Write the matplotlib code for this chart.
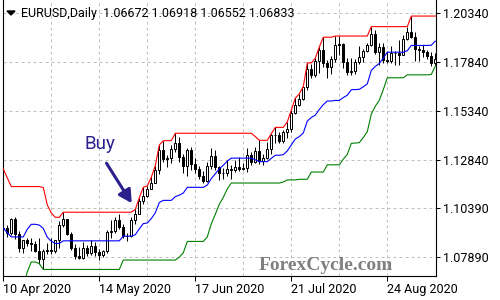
import numpy as np
import pandas as pd
import matplotlib
matplotlib.use("Agg")
import matplotlib.pyplot as plt
from matplotlib.patches import Polygon

# ---------- DATA ----------
# 19 daily bars before 10 Apr (16 Mar - 9 Apr), only used to seed the 20-bar channel
hist_high = [1.1240, 1.1194, 1.1030, 1.0910, 1.0760, 1.0785, 1.0850, 1.0890, 1.1035, 1.1150,
             1.1145, 1.1056, 1.1015, 1.0970, 1.0865, 1.0845, 1.0925, 1.0890, 1.0950]
hist_low = [1.1050, 1.0960, 1.0870, 1.0655, 1.0640, 1.0636, 1.0715, 1.0770, 1.0765, 1.0950,
            1.1000, 1.0955, 1.0905, 1.0865, 1.0778, 1.0770, 1.0830, 1.0835, 1.0848]

# EURUSD daily, 10 Apr 2020 - 9 Sep 2020
opens = [1.0934, 1.0937, 1.0913, 1.0986, 1.0908, 1.0839, 1.0875, 1.0862, 1.0856, 1.0823,
         1.0780, 1.0820, 1.0827, 1.0822, 1.0875, 1.0954, 1.0982, 1.0908, 1.0838, 1.0795,
         1.0784, 1.0838, 1.0810, 1.0848, 1.0816, 1.0803, 1.0820, 1.0918, 1.0923, 1.0977,
         1.0945, 1.0900, 1.0898, 1.0980, 1.1012, 1.1076, 1.1101, 1.1140, 1.1170, 1.1236,
         1.1339, 1.1290, 1.1295, 1.1341, 1.1373, 1.1300, 1.1257, 1.1336, 1.1264, 1.1240,
         1.1204, 1.1178, 1.1256, 1.1308, 1.1250, 1.1219, 1.1220, 1.1242, 1.1234, 1.1250,
         1.1239, 1.1246, 1.1309, 1.1275, 1.1330, 1.1282, 1.1298, 1.1343, 1.1412, 1.1411,
         1.1383, 1.1428, 1.1444, 1.1526, 1.1567, 1.1596, 1.1656, 1.1752, 1.1719, 1.1792,
         1.1846, 1.1778, 1.1762, 1.1799, 1.1873, 1.1876, 1.1785, 1.1735, 1.1738, 1.1785,
         1.1813, 1.1842, 1.1871, 1.1930, 1.1835, 1.1860, 1.1795, 1.1792, 1.1833, 1.1831,
         1.1822, 1.1904, 1.1937, 1.1915, 1.1852, 1.1848, 1.1838, 1.1817, 1.1779]
highs = [1.0952, 1.0955, 1.0990, 1.0993, 1.0925, 1.0879, 1.0890, 1.0888, 1.0874, 1.0887,
         1.0830, 1.0861, 1.0889, 1.0876, 1.0973, 1.1019, 1.0985, 1.0920, 1.0859, 1.0844,
         1.0868, 1.0852, 1.0875, 1.0865, 1.0831, 1.0828, 1.0926, 1.0977, 1.0996, 1.1008,
         1.0960, 1.0913, 1.0996, 1.1033, 1.1093, 1.1147, 1.1153, 1.1198, 1.1257, 1.1362,
         1.1384, 1.1311, 1.1361, 1.1422, 1.1405, 1.1315, 1.1346, 1.1350, 1.1294, 1.1257,
         1.1227, 1.1275, 1.1349, 1.1338, 1.1256, 1.1246, 1.1288, 1.1262, 1.1283, 1.1303,
         1.1268, 1.1345, 1.1327, 1.1352, 1.1386, 1.1315, 1.1375, 1.1420, 1.1452, 1.1430,
         1.1439, 1.1480, 1.1540, 1.1601, 1.1623, 1.1660, 1.1781, 1.1776, 1.1805, 1.1862,
         1.1912, 1.1796, 1.1815, 1.1918, 1.1916, 1.1880, 1.1806, 1.1805, 1.1800, 1.1865,
         1.1850, 1.1885, 1.1966, 1.1951, 1.1883, 1.1883, 1.1841, 1.1869, 1.1840, 1.1900,
         1.1925, 1.1966, 1.2020, 1.1937, 1.1867, 1.1872, 1.1847, 1.1838, 1.1832]
lows = [1.0915, 1.0895, 1.0901, 1.0880, 1.0815, 1.0812, 1.0845, 1.0820, 1.0817, 1.0757,
        1.0727, 1.0806, 1.0808, 1.0813, 1.0836, 1.0944, 1.0901, 1.0827, 1.0782, 1.0778,
        1.0780, 1.0795, 1.0800, 1.0798, 1.0775, 1.0790, 1.0812, 1.0885, 1.0912, 1.0935,
        1.0887, 1.0870, 1.0893, 1.0960, 1.1008, 1.1060, 1.1095, 1.1138, 1.1169, 1.1214,
        1.1273, 1.1248, 1.1270, 1.1326, 1.1275, 1.1221, 1.1206, 1.1236, 1.1220, 1.1187,
        1.1168, 1.1173, 1.1240, 1.1236, 1.1184, 1.1190, 1.1203, 1.1187, 1.1225, 1.1230,
        1.1232, 1.1224, 1.1262, 1.1268, 1.1263, 1.1261, 1.1290, 1.1314, 1.1370, 1.1372,
        1.1374, 1.1400, 1.1430, 1.1520, 1.1560, 1.1590, 1.1645, 1.1705, 1.1708, 1.1727,
        1.1762, 1.1705, 1.1724, 1.1785, 1.1822, 1.1756, 1.1721, 1.1720, 1.1722, 1.1773,
        1.1783, 1.1835, 1.1869, 1.1828, 1.1770, 1.1780, 1.1780, 1.1781, 1.1771, 1.1768,
        1.1820, 1.1900, 1.1910, 1.1789, 1.1789, 1.1809, 1.1802, 1.1765, 1.1770]
closes = [1.0937, 1.0913, 1.0986, 1.0908, 1.0839, 1.0875, 1.0862, 1.0856, 1.0823, 1.0780,
          1.0820, 1.0827, 1.0822, 1.0875, 1.0954, 1.0982, 1.0908, 1.0838, 1.0795, 1.0784,
          1.0838, 1.0810, 1.0848, 1.0816, 1.0803, 1.0820, 1.0918, 1.0923, 1.0977, 1.0945,
          1.0900, 1.0898, 1.0980, 1.1012, 1.1076, 1.1101, 1.1140, 1.1170, 1.1236, 1.1339,
          1.1290, 1.1295, 1.1341, 1.1373, 1.1300, 1.1257, 1.1336, 1.1264, 1.1240, 1.1204,
          1.1178, 1.1256, 1.1308, 1.1250, 1.1219, 1.1220, 1.1242, 1.1234, 1.1250, 1.1239,
          1.1246, 1.1309, 1.1275, 1.1330, 1.1282, 1.1298, 1.1343, 1.1412, 1.1411, 1.1383,
          1.1428, 1.1444, 1.1526, 1.1567, 1.1596, 1.1656, 1.1752, 1.1719, 1.1792, 1.1846,
          1.1778, 1.1762, 1.1799, 1.1873, 1.1876, 1.1785, 1.1735, 1.1738, 1.1785, 1.1813,
          1.1842, 1.1871, 1.1930, 1.1835, 1.1860, 1.1795, 1.1792, 1.1833, 1.1831, 1.1822,
          1.1904, 1.1937, 1.1915, 1.1852, 1.1848, 1.1838, 1.1817, 1.1779, 1.1802]

tick_bars = [0, 24, 48, 72, 96]
tick_dates = ["10 Apr 2020", "14 May 2020", "17 Jun 2020", "21 Jul 2020", "24 Aug 2020"]
price_ticks = [1.20340, 1.17840, 1.15340, 1.12840, 1.10390, 1.07890]

title = "EURUSD,Daily  1.06672 1.06918 1.06552 1.06833"
PERIOD = 20
BUY_BAR = 32

# ---------- STYLE ----------
plt.rcParams['font.family'] = ['Roboto', 'DejaVu Sans']
PX = 0.72  # one pixel in points at dpi 100
BUY_COLOR = "#2b1f8c"
GRID_COLOR = "#c0c0c0"


def channel():
    """20-bar price channel (highest high / lowest low) and its middle"""
    hi = pd.Series(hist_high + highs).rolling(PERIOD).max().iloc[len(hist_high):]
    lo = pd.Series(hist_low + lows).rolling(PERIOD).min().iloc[len(hist_low):]
    return hi.to_numpy(), lo.to_numpy(), ((hi + lo) / 2).to_numpy()


def draw_candles(ax):
    o, h, l, c = map(np.array, (opens, highs, lows, closes))
    x = np.arange(len(o))
    ax.vlines(x, l, h, color="black", lw=PX, zorder=2)
    up = c >= o
    bottom = np.minimum(o, c)
    height = np.abs(c - o)
    ax.bar(x[up], height[up], bottom=bottom[up], width=0.55, facecolor="white",
           edgecolor="black", linewidth=PX, zorder=2.5)
    ax.bar(x[~up], height[~up], bottom=bottom[~up], width=0.55, facecolor="black",
           edgecolor="black", linewidth=PX, zorder=2.5)


fig = plt.figure(figsize=(5, 3), dpi=100)
ax = fig.add_axes([2.7 / 500, 24 / 300, 433 / 500, 276 / 300])

upper, lower, middle = channel()
bars = np.arange(len(closes))

draw_candles(ax)
ax.plot(bars, upper, color="#ff0000", lw=0.8, zorder=3)
ax.plot(bars, middle, color="#0000ff", lw=0.8, zorder=3)
ax.plot(bars, lower, color="#008000", lw=0.8, zorder=3)

ax.set_xlim(-0.15, 108.1)
ax.set_ylim(1.06936, 1.21019)

# axes frame
ax.spines["top"].set_visible(False)
for side in ("left", "bottom", "right"):
    ax.spines[side].set_linewidth(0.8)
    ax.spines[side].set_color("black")

# price scale on the right
ax.yaxis.tick_right()
ax.set_yticks(price_ticks)
ax.set_yticklabels([f"{v:.5f}" for v in price_ticks])
ax.tick_params(axis="y", direction="out", length=4 * PX, width=PX, pad=2.6,
               labelsize=9, colors="black")

# date scale
ax.set_xticks(tick_bars)
ax.set_xticklabels(tick_dates)
ax.set_xticks([b + 12 for b in tick_bars[:-1]], minor=True)
ax.tick_params(axis="x", which="major", direction="out", length=5 * PX, width=PX,
               pad=1.2, labelsize=9)
ax.tick_params(axis="x", which="minor", length=0)
for lbl in ax.get_xticklabels():
    lbl.set_ha("left")

grid_kw = dict(color=GRID_COLOR, lw=PX, linestyle=(0, (3, 3)))
ax.grid(True, axis="x", which="both", **grid_kw)
ax.grid(True, axis="y", which="major", **grid_kw)
ax.set_axisbelow(True)

# title bar
fig.add_artist(Polygon([[7 / 500, 1 - 11 / 300], [15 / 500, 1 - 11 / 300], [11 / 500, 1 - 15 / 300]],
                       closed=True, transform=fig.transFigure, color="black"))
fig.text(21 / 500, 1 - 13.5 / 300, title, fontsize=9, va="center", ha="left")

# buy signal
tip = (BUY_BAR + 0.1, highs[BUY_BAR] + 0.0069)
tail = (BUY_BAR - 6.2, highs[BUY_BAR] + 0.0273)
ax.annotate("", xy=tip, xytext=tail,
            arrowprops=dict(arrowstyle="-|>,head_length=0.55,head_width=0.3",
                            color=BUY_COLOR, lw=2.2, shrinkA=0, shrinkB=0,
                            mutation_scale=14), zorder=4)
ax.text(BUY_BAR - 7.8, highs[BUY_BAR] + 0.0371, "Buy", color=BUY_COLOR,
        fontsize=13.5, ha="center", va="center", zorder=4)

# watermark
fig.text(326 / 500, 1 - 266 / 300, "ForexCycle.com", fontsize=14, fontweight="bold",
         family="Liberation Serif", color="#808080", ha="center", va="center")

fig.savefig("out.png", dpi=100)
